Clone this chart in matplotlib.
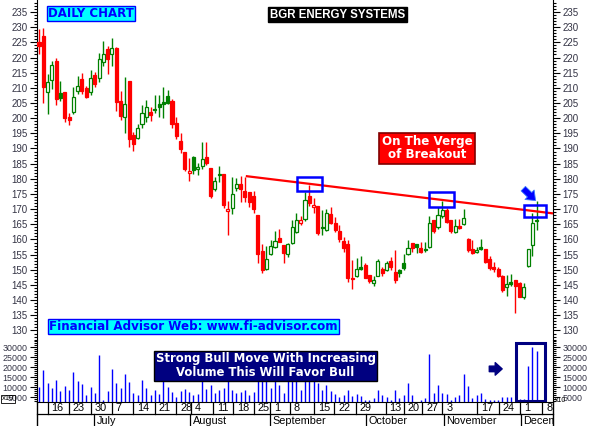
import numpy as np
import matplotlib
matplotlib.use("Agg")
import matplotlib.pyplot as plt
from matplotlib.ticker import MultipleLocator
from matplotlib.patches import Rectangle

# daily OHLC, one row per trading day
opens = [225.0, 227.0, 208.5, 212.5, 219.0, 208.2, 208.6, 200.4, 201.9, 209.0,
         212.9, 209.9, 208.7, 214.2, 213.1, 218.4, 222.7, 221.1, 223.1, 205.6,
         200.5, 212.2, 194.4, 193.3, 198.0, 200.3, 202.0, 203.0, 204.7, 205.3,
         207.3, 205.7, 198.3, 192.5, 189.0, 181.8, 187.1, 183.1, 184.3, 187.1,
         183.7, 176.5, 181.6, 181.6, 169.3, 170.3, 177.1, 178.3, 176.1, 175.6,
         174.3, 168.1, 156.3, 150.3, 155.1, 157.6, 160.4, 158.2, 155.1, 158.9,
         162.4, 165.3, 166.6, 174.3, 170.6, 171.0, 164.2, 163.1, 168.4, 165.3,
         162.8, 159.5, 158.5, 147.2, 148.0, 150.8, 151.6, 148.3, 145.5, 148.1,
         150.3, 149.9, 153.0, 149.2, 149.9, 152.3, 155.1, 158.7, 158.5, 157.3,
         156.9, 157.4, 166.4, 164.2, 167.9, 169.7, 166.4, 162.4, 164.4, 165.0,
         160.0, 156.9, 155.8, 157.4, 157.0, 153.6, 151.0, 150.2, 148.0, 144.4,
         145.9, 146.5, 145.6, 140.9, 151.3, 158.2, 166.5]
highs = [229.5, 229.8, 214.5, 218.8, 220.0, 212.2, 208.6, 201.6, 210.4, 213.9,
         215.0, 210.7, 215.9, 215.3, 221.6, 225.3, 223.8, 226.3, 223.4, 209.1,
         213.5, 212.2, 195.3, 198.1, 204.3, 206.0, 203.6, 207.6, 207.6, 210.2,
         209.3, 206.3, 200.5, 195.0, 189.0, 186.8, 187.5, 185.3, 192.2, 192.1,
         183.7, 180.7, 184.2, 181.6, 172.6, 180.5, 180.4, 180.9, 180.7, 175.6,
         176.0, 168.1, 158.6, 157.8, 159.8, 162.8, 163.3, 158.2, 159.0, 166.4,
         168.8, 167.7, 175.8, 178.0, 173.6, 171.0, 169.7, 170.0, 170.8, 167.5,
         164.8, 160.9, 159.8, 153.2, 153.8, 154.5, 152.2, 148.3, 148.0, 153.5,
         151.0, 153.0, 154.1, 156.5, 150.3, 155.2, 159.8, 158.9, 158.5, 159.3,
         159.3, 167.7, 166.4, 170.8, 172.8, 170.3, 166.4, 166.6, 166.6, 170.0,
         160.4, 159.8, 157.6, 160.0, 157.0, 154.5, 152.7, 151.0, 148.2, 148.3,
         148.6, 146.5, 146.1, 145.6, 156.8, 168.6, 172.8]
lows = [221.0, 205.0, 201.4, 209.5, 204.4, 205.6, 198.8, 197.7, 201.5, 208.0,
        208.0, 206.6, 207.6, 210.4, 212.0, 217.3, 214.6, 217.3, 202.5, 199.4,
        195.2, 190.6, 189.2, 193.0, 196.6, 198.8, 199.2, 201.6, 200.3, 200.2,
        204.8, 196.6, 193.0, 188.6, 182.7, 179.4, 181.6, 181.3, 183.1, 184.6,
        173.8, 176.0, 178.9, 170.5, 161.5, 168.5, 176.1, 172.5, 172.5, 170.8,
        168.8, 152.1, 149.1, 150.0, 154.8, 157.2, 159.3, 152.3, 154.2, 158.6,
        162.0, 164.8, 166.2, 171.1, 168.6, 161.5, 161.5, 162.8, 165.1, 162.6,
        159.3, 156.0, 146.1, 143.6, 147.6, 149.9, 147.2, 145.5, 144.7, 148.0,
        147.8, 149.6, 149.9, 145.7, 147.5, 149.9, 155.0, 156.0, 155.6, 155.4,
        156.0, 157.2, 162.0, 163.4, 167.0, 165.3, 162.0, 162.2, 163.4, 164.8,
        156.0, 155.2, 155.4, 156.4, 152.1, 149.9, 149.4, 147.5, 142.8, 141.4,
        144.7, 135.7, 140.9, 140.3, 151.0, 154.5, 163.1]
closes = [223.8, 210.3, 212.0, 217.5, 206.4, 206.8, 200.2, 199.5, 207.1, 210.5,
          209.1, 207.1, 213.1, 211.4, 219.4, 221.1, 219.4, 223.0, 205.2, 200.8,
          204.6, 193.2, 191.5, 196.6, 201.6, 203.6, 200.9, 202.6, 203.8, 204.8,
          205.0, 198.0, 194.2, 189.9, 183.3, 182.6, 182.9, 184.0, 186.7, 185.3,
          174.4, 179.2, 181.1, 171.5, 170.0, 174.9, 178.2, 176.5, 174.1, 172.4,
          170.0, 155.1, 150.1, 153.6, 157.7, 159.4, 159.3, 155.6, 158.5, 164.2,
          166.4, 166.3, 173.0, 171.9, 171.5, 162.3, 163.7, 168.6, 165.5, 163.1,
          160.2, 157.3, 147.2, 146.9, 150.2, 150.4, 147.4, 146.3, 146.5, 153.0,
          148.9, 152.2, 150.8, 146.6, 148.9, 150.7, 157.3, 157.2, 157.6, 156.0,
          156.5, 165.3, 162.8, 168.1, 169.7, 165.8, 162.9, 164.4, 163.7, 167.0,
          156.5, 155.7, 156.5, 156.7, 152.6, 150.5, 150.2, 148.0, 143.3, 145.3,
          145.4, 144.7, 141.1, 144.3, 156.8, 165.3, 166.0]
volumes = [10300, 18650, 12300, 9800, 13650, 8150, 10650, 8650, 17800, 13150,
           11650, 6150, 10300, 7300, 26150, 3650, 8150, 19150, 12150, 9800,
           16650, 12650, 7300, 6150, 13650, 9800, 6150, 8650, 6650, 16000,
           10300, 7650, 5150, 8150, 9150, 7650, 6150, 6650, 15000, 9150,
           11150, 7300, 8650, 9650, 15500, 8650, 7300, 7650, 8650, 6150,
           7650, 17000, 16000, 18000, 9800, 15000, 11150, 7000, 16000, 17000,
           15500, 8650, 16000, 15000, 15000, 12300, 8650, 11150, 8150, 6650,
           5150, 6150, 8650, 5650, 6650, 5650, 3650, 3650, 4800, 8650,
           6150, 5150, 3650, 8650, 4800, 6150, 12300, 6150, 2600, 3650,
           4650, 26650, 7300, 11150, 7300, 6650, 3650, 5150, 6150, 16650,
           10650, 4800, 6150, 7300, 4150, 3650, 3650, 3650, 5150, 5150,
           5150, 2600, 4150, 4150, 20650, 30300, 28150]

# weekly and monthly labels of the date strip (positions in trading days)
week_labels = ["16", "23", "30", "7", "14", "21", "28", "4", "11", "18", "25", "1",
               "8", "15", "22", "29", "13", "20", "27", "3", "17", "24", "1", "8"]
week_pos = [2.0, 7.0, 12.0, 17.0, 22.0, 27.0, 32.0, 35.4, 40.6, 45.3, 50.0, 53.8,
            58.5, 64.1, 68.8, 73.8, 80.8, 85.1, 89.3, 94.0, 102.2, 107.1, 112.1, 117.3]
month_labels = ["July", "August", "September", "October", "November", "December"]
month_pos = [12.9, 35.2, 53.8, 76.2, 94.3, 112.3]

# falling resistance line and the three touch boxes
trend_x = [48.2, 119.8]
trend_y = [180.9, 168.6]
touch_boxes = [(60.1, 176.0, 66.0, 180.5), (91.0, 170.8, 96.8, 175.7), (113.0, 167.5, 118.1, 171.4)]

W, H = 589, 426
RED = "#ff0000"
GREEN = "#008000"
XMIN, XMAX = -0.47, 119.8


def fx(px):
    return px / W


def fy(py):
    return 1 - py / H


def main():
    plt.rcParams['font.family'] = ['DejaVu Sans']
    fig = plt.figure(figsize=(W / 100, H / 100), dpi=100)
    fig.patch.set_facecolor("white")

    ax = fig.add_axes([fx(37), fy(340), fx(553) - fx(37), fy(0) - fy(340)])
    axv = fig.add_axes([fx(37), fy(402), fx(553) - fx(37), fy(340) - fy(402)])
    axd = fig.add_axes([fx(37), 0, fx(553) - fx(37), fy(402)])

    # candles: colour by close vs previous close, hollow when close > open
    x = np.arange(len(closes))
    for i in x:
        o, h, l, c = opens[i], highs[i], lows[i], closes[i]
        prev = closes[i - 1] if i > 0 else o
        col = GREEN if c >= prev else RED
        ax.vlines(i, l, h, color=col, lw=1, zorder=2)
        lo, hi = min(o, c), max(o, c)
        face = "white" if c > o else col
        ax.add_patch(Rectangle((i - 0.36, lo), 0.72, max(hi - lo, 0.25),
                               facecolor=face, edgecolor=col, lw=0.9, zorder=3))

    ax.plot(trend_x, trend_y, color=RED, lw=1.6, zorder=4, solid_capstyle="butt")
    for x0, y0, x1, y1 in touch_boxes:
        ax.add_patch(Rectangle((x0, y0), x1 - x0, y1 - y0, fill=False,
                               edgecolor="#0000ff", lw=1.8, zorder=5))
    ax.annotate("", xy=(116.2, 172.2), xytext=(112.4, 177.4),
                arrowprops=dict(arrowstyle="simple,head_length=0.6,head_width=0.95,tail_width=0.45",
                                fc="#0000ff", ec="#3a7bff", lw=0.6), zorder=6)

    ax.set_xlim(XMIN, XMAX)
    ax.set_ylim(126.86, 238.96)
    ax.yaxis.set_major_locator(MultipleLocator(5))
    ax.yaxis.set_minor_locator(MultipleLocator(1))
    ax.set_xticks([])
    for s in ["top", "bottom"]:
        ax.spines[s].set_visible(False)

    # volume
    axv.vlines(x, 0, volumes, color="#0000ff", lw=1)
    axv.set_xlim(XMIN, XMAX)
    axv.set_ylim(2650, 33650)
    axv.set_yticks([5000, 10000, 15000, 20000, 25000, 30000])
    axv.yaxis.set_minor_locator(MultipleLocator(1000))
    axv.set_xticks([])
    axv.spines["top"].set_visible(False)
    axv.add_patch(Rectangle((111.1, 3150), 6.8, 28850, fill=False,
                            edgecolor="#000080", lw=2.2, zorder=5))
    axv.annotate("", xy=(108.6, 19200), xytext=(104.3, 19200),
                 arrowprops=dict(arrowstyle="simple,head_length=0.5,head_width=0.9,tail_width=0.4",
                                 fc="#000080", ec="#000080"), zorder=6)

    for a, size in ((ax, 7.0), (axv, 6.4)):
        a.patch.set_alpha(0)
        a.tick_params(axis="y", which="both", direction="out", left=True, right=True,
                      labelleft=True, labelright=True, labelsize=size, labelcolor="#333344",
                      pad=2, width=0.8)
        a.tick_params(axis="y", which="major", length=5)
        a.tick_params(axis="y", which="minor", length=2.5)
        for lab in a.get_yticklabels():
            lab.set_family("Liberation Sans")
    fig.text(fx(2), fy(399), "x10", fontsize=5.5, va="center", ha="left",
             family="Liberation Sans",
             bbox=dict(boxstyle="square,pad=0.1", fc="none", ec="black", lw=0.6))
    fig.text(fx(555), fy(400), "x10", fontsize=5, va="center", ha="left",
             family="Liberation Sans")

    # date strip
    axd.set_xlim(XMIN, XMAX)
    axd.set_ylim(0, 24)
    axd.axis("off")
    axd.plot([XMIN, XMAX], [12, 12], color="black", lw=0.9, clip_on=False)
    for p, t in zip(week_pos, week_labels):
        axd.plot([p, p], [24, 12], color="black", lw=0.9)
        axd.text(p + 0.9, 17.8, t, fontsize=7.8, va="center", ha="left",
                 family="Liberation Sans", clip_on=True)
    for p, t in zip(month_pos, month_labels):
        axd.plot([p, p], [12, 0], color="black", lw=0.9)
        axd.text(p + 0.6, 5.5, t, fontsize=7.8, va="center", ha="left",
                 family="Liberation Sans", clip_on=True)
    axd.plot([XMIN, XMIN], [0, 24], color="black", lw=1, clip_on=False)
    axd.plot([XMAX, XMAX], [0, 24], color="black", lw=1, clip_on=False)

    # text boxes
    fig.text(fx(91), fy(13.5), "DAILY CHART", fontsize=8.5, weight="bold", color="#0000ff",
             ha="center", va="center",
             bbox=dict(boxstyle="square,pad=0.12", fc="#00ffff", ec="#0000ff", lw=1))
    fig.text(fx(337.5), fy(14.5), "BGR ENERGY SYSTEMS", fontsize=8.3, weight="bold",
             color="white", ha="center", va="center", family="Liberation Sans",
             bbox=dict(boxstyle="square,pad=0.12", fc="black", ec="black"))
    fig.text(fx(193.5), fy(326.5), "Financial Advisor Web: www.fi-advisor.com", fontsize=8.6,
             weight="bold", color="#0000ff", ha="center", va="center",
             bbox=dict(boxstyle="square,pad=0.1", fc="#00ffff", ec="#0000ff", lw=1))
    fig.text(fx(427), fy(148.5), "On The Verge\nof Breakout", fontsize=8.6, weight="bold",
             color="white", ha="center", va="center", linespacing=1.0,
             bbox=dict(boxstyle="square,pad=0.2", fc=RED, ec="#800000", lw=1.2))
    fig.text(fx(265.5), fy(365.5), "Strong Bull Move With Increasing\nVolume This Will Favor Bull",
             fontsize=8.4, weight="bold", color="white", ha="center", va="center",
             linespacing=1.05,
             bbox=dict(boxstyle="square,pad=0.15", fc="#000080", ec="black", lw=1))

    fig.savefig("out.png", dpi=100)
    plt.close(fig)


if __name__ == "__main__":
    main()
